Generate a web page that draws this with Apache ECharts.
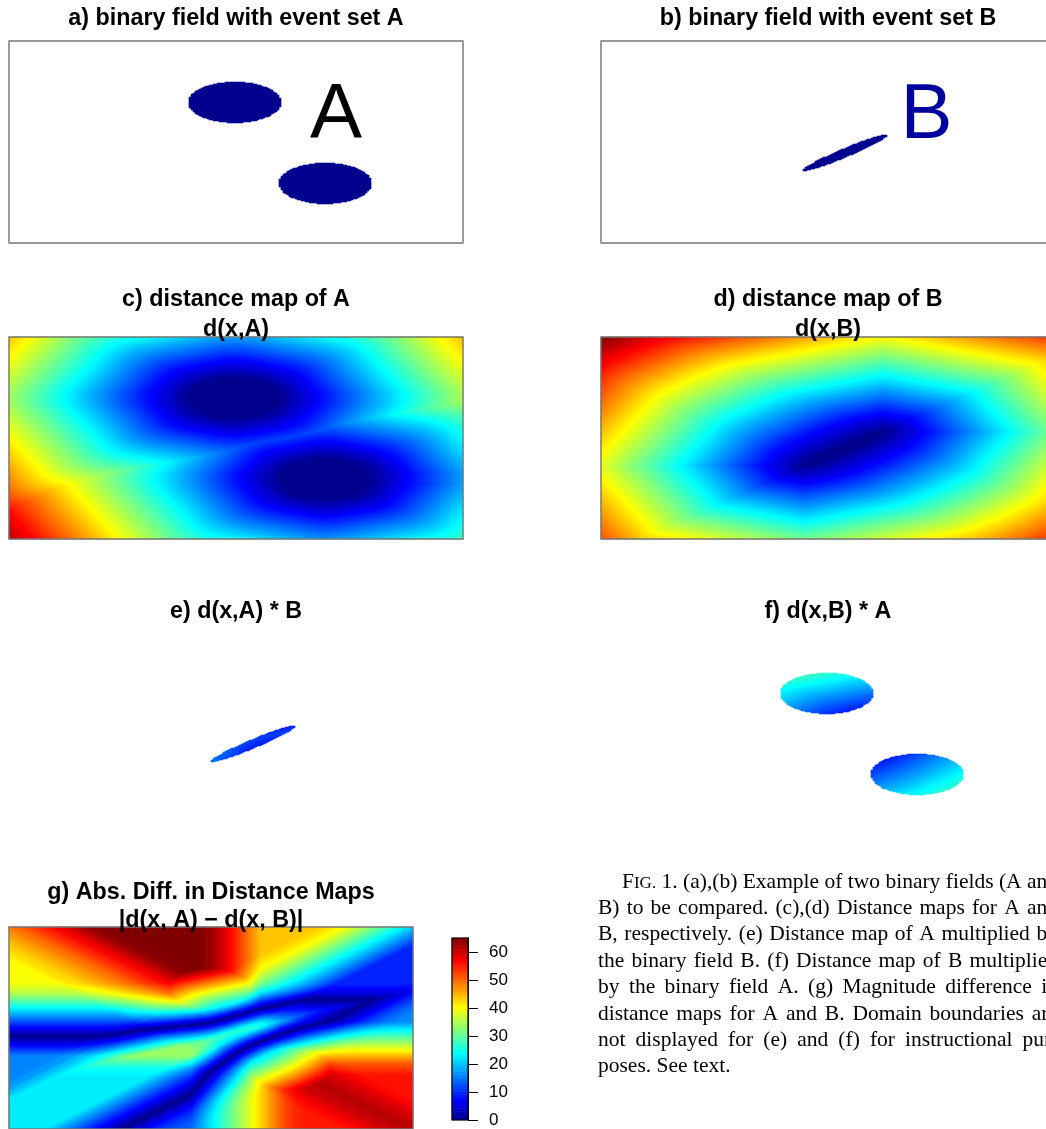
<!DOCTYPE html>
<html><head><meta charset="utf-8">
<script src="https://cdn.jsdelivr.net/npm/echarts@6/dist/echarts.min.js"></script>
<style>html,body{margin:0;padding:0;background:#fff;overflow:hidden}#chart{width:1046px;height:1129px}</style>
</head><body><div id="chart"></div>
<script>
// ---------------- values ----------------
// square domain, coordinates normalised 0..1 (x to the right, y downwards)
// event set A : two discs
const eventA_cx = [0.497, 0.697];
const eventA_cy = [0.304, 0.705];
const eventA_rx = [0.102, 0.102];
const eventA_ry = [0.101, 0.101];
// event set B : one thin tilted ellipse
const eventB_cx = [0.5375];
const eventB_cy = [0.5537];
const eventB_halfLength = [0.1275];
const eventB_halfWidth = [0.017];
const eventB_angleDeg = [44];
// colour bar of panel (g)
const diffMaxRead = 65;
const barTicks = [0, 10, 20, 30, 40, 50, 60];
const barSteps = 64;
// texts
const panelTitles = [
  ['a) binary field with event set A'], ['b) binary field with event set B'],
  ['c) distance map of A', 'd(x,A)'], ['d) distance map of B', 'd(x,B)'],
  ['e) d(x,A) * B'], ['f) d(x,B) * A'],
  ['g) Abs. Diff. in Distance Maps', '|d(x, A) \u2212 d(x, B)|']
];
const captionLines = [
  'FIG. 1. (a),(b) Example of two binary fields (A and',
  'B) to be compared. (c),(d) Distance maps for A and',
  'B, respectively. (e) Distance map of A multiplied by',
  'the binary field B. (f) Distance map of B multiplied',
  'by the binary field A. (g) Magnitude difference in',
  'distance maps for A and B. Domain boundaries are',
  'not displayed for (e) and (f) for instructional pur-',
  'poses. See text.'
];

// ---------------- style / layout ----------------
const TIM = ["#00008F","#00009F","#0000AF","#0000BF","#0000CF","#0000DF","#0000EF","#0000FF","#0010FF","#0020FF","#0030FF","#0040FF","#0050FF","#0060FF","#0070FF","#0080FF","#008FFF","#009FFF","#00AFFF","#00BFFF","#00CFFF","#00DFFF","#00EFFF","#00FFFF","#10FFEF","#20FFDF","#30FFCF","#40FFBF","#50FFAF","#60FF9F","#70FF8F","#80FF80","#8FFF70","#9FFF60","#AFFF50","#BFFF40","#CFFF30","#DFFF20","#EFFF10","#FFFF00","#FFEF00","#FFDF00","#FFCF00","#FFBF00","#FFAF00","#FF9F00","#FF8F00","#FF8000","#FF7000","#FF6000","#FF5000","#FF4000","#FF3000","#FF2000","#FF1000","#FF0000","#EF0000","#DF0000","#CF0000","#BF0000","#AF0000","#9F0000","#8F0000","#800000"];
const boxes = [ // left, top, width, height
  [9, 41, 454, 202], [601, 41, 454, 202],
  [9, 337, 454, 202], [601, 337, 454, 202],
  [9, 632, 454, 202], [601, 632, 454, 202],
  [9, 927, 404, 202], [452, 938, 16, 182]
];
const cellsMain = [227, 202];   // raster resolution of panels a-f (2 x 1 px cells)
const cellsDiff = [202, 202];   // raster resolution of panel g
const titlePos = [[236, 18.5], [828, 18.5], [236, 300, 330], [828, 300, 330], [236, 611.5], [828, 611.5], [211, 892.5, 921]];
const SANS = '"Liberation Sans", Arial, Helvetica, sans-serif';
const SERIF = '"Liberation Serif", "Times New Roman", Times, serif';

// ---------------- event masks and distance maps ----------------
function buildFields(Nx, Ny) {
  const inA = new Uint8Array(Nx * Ny), inB = new Uint8Array(Nx * Ny);
  for (let j = 0; j < Ny; j++) for (let i = 0; i < Nx; i++) {
    const x = (i + 0.5) / Nx, y = (j + 0.5) / Ny;
    for (let k = 0; k < eventA_cx.length; k++) {
      const u = (x - eventA_cx[k]) / eventA_rx[k], v = (y - eventA_cy[k]) / eventA_ry[k];
      if (u * u + v * v <= 1) inA[j * Nx + i] = 1;
    }
    for (let k = 0; k < eventB_cx.length; k++) {
      const th = eventB_angleDeg[k] * Math.PI / 180;
      const dx = x - eventB_cx[k], dy = y - eventB_cy[k];
      const u = (dx * Math.cos(th) - dy * Math.sin(th)) / eventB_halfLength[k];
      const v = (dx * Math.sin(th) + dy * Math.cos(th)) / eventB_halfWidth[k];
      if (u * u + v * v <= 1) inB[j * Nx + i] = 1;
    }
  }
  function distanceMap(mask) {
    const bx = [], by = [];
    for (let j = 0; j < Ny; j++) for (let i = 0; i < Nx; i++) {
      if (!mask[j * Nx + i]) continue;
      if (i === 0 || j === 0 || i === Nx - 1 || j === Ny - 1 ||
          !mask[j * Nx + i - 1] || !mask[j * Nx + i + 1] || !mask[(j - 1) * Nx + i] || !mask[(j + 1) * Nx + i]) {
        bx.push(i / Nx); by.push(j / Ny);
      }
    }
    const out = new Float32Array(Nx * Ny);
    for (let j = 0; j < Ny; j++) for (let i = 0; i < Nx; i++) {
      if (mask[j * Nx + i]) continue;
      const x = i / Nx, y = j / Ny;
      let best = 1e9;
      for (let k = 0; k < bx.length; k++) {
        const a = Math.abs(x - bx[k]), b = Math.abs(y - by[k]);
        const d = a > b ? a + 0.41421356 * b : b + 0.41421356 * a;
        if (d < best) best = d;
      }
      out[j * Nx + i] = best;
    }
    return out;
  }
  return {Nx, Ny, inA, inB, dA: distanceMap(inA), dB: distanceMap(inB)};
}
const FM = buildFields(cellsMain[0], cellsMain[1]);
const FG = buildFields(cellsDiff[0], cellsDiff[1]);
let maxD = 0, maxDiff = 0;
for (let k = 0; k < FM.dA.length; k++) maxD = Math.max(maxD, FM.dA[k], FM.dB[k]);
for (let k = 0; k < FG.dA.length; k++) maxDiff = Math.max(maxDiff, Math.abs(FG.dA[k] - FG.dB[k]));
const diffScale = diffMaxRead / maxDiff;
const r4 = v => Math.round(v * 10000) / 10000;
const dataA = [], dataB = [], dataC = [], dataD = [], dataE = [], dataF = [], dataG = [];
for (let j = 0; j < FM.Ny; j++) for (let i = 0; i < FM.Nx; i++) {
  const k = j * FM.Nx + i;
  if (FM.inA[k]) { dataA.push([i, j, 1]); dataF.push([i, j, r4(FM.dB[k])]); }
  if (FM.inB[k]) { dataB.push([i, j, 1]); dataE.push([i, j, r4(FM.dA[k])]); }
  dataC.push([i, j, r4(FM.dA[k])]);
  dataD.push([i, j, r4(FM.dB[k])]);
}
for (let j = 0; j < FG.Ny; j++) for (let i = 0; i < FG.Nx; i++) {
  const k = j * FG.Nx + i;
  dataG.push([i, j, Math.round(Math.abs(FG.dA[k] - FG.dB[k]) * diffScale * 100) / 100]);
}
const dataBar = [];
for (let k = 0; k < barSteps; k++) dataBar.push([0, k, Math.round((k + 0.5) / barSteps * diffMaxRead * 100) / 100]);

// ---------------- option ----------------
const range = n => Array.from({length: n}, (_, k) => k);
const grids = boxes.map(b => ({left: b[0], top: b[1], width: b[2], height: b[3], show: false, containLabel: false, outerBoundsMode: 'none'}));
const xAxes = [], yAxes = [];
for (let p = 0; p < 7; p++) {
  const c = p === 6 ? cellsDiff : cellsMain;
  xAxes.push({type: 'category', gridIndex: p, data: range(c[0]), show: false});
  yAxes.push({type: 'category', gridIndex: p, data: range(c[1]), show: false, inverse: true});
}
xAxes.push({type: 'category', gridIndex: 7, data: ['0'], show: false});
yAxes.push({type: 'category', gridIndex: 7, data: range(barSteps), show: false});
yAxes.push({
  type: 'value', gridIndex: 7, position: 'right', min: 0, max: diffMaxRead,
  axisLine: {show: true, lineStyle: {color: '#000', width: 1}},
  axisTick: {show: true, inside: false, length: 10, lineStyle: {color: '#000', width: 1}, customValues: barTicks},
  axisLabel: {show: true, customValues: barTicks, color: '#000', fontSize: 17, fontFamily: SANS, margin: 21},
  splitLine: {show: false}
});
const hm = (p, data, yIdx) => ({
  type: 'heatmap', xAxisIndex: p, yAxisIndex: yIdx === undefined ? p : yIdx, data,
  progressive: 0, silent: true, animation: false, emphasis: {disabled: true}
});
const series = [hm(0, dataA), hm(1, dataB), hm(2, dataC), hm(3, dataD), hm(4, dataE), hm(5, dataF), hm(6, dataG), hm(7, dataBar, 7)];
const visualMap = [
  {show: false, seriesIndex: [0, 1], dimension: 2, min: 0, max: 1, inRange: {color: ['#00008F', '#00008F']}},
  {show: false, seriesIndex: [2, 3, 4, 5], dimension: 2, min: 0, max: maxD, inRange: {color: TIM}},
  {show: false, seriesIndex: [6, 7], dimension: 2, min: 0, max: diffMaxRead, inRange: {color: TIM}}
];

// texts and frames
const graphics = [];
function txt(s, x, y, size, opts) {
  opts = opts || {};
  graphics.push({
    type: 'text', x, y, z: 100, silent: true,
    style: {
      text: s, fill: opts.color || '#000', fontSize: size, fontFamily: opts.family || SANS,
      fontWeight: opts.weight || 'normal', align: opts.align || 'center', verticalAlign: 'middle',
      textAlign: opts.align || 'center', textVerticalAlign: 'middle'
    }
  });
}
panelTitles.forEach((lines, p) => {
  lines.forEach((s, l) => txt(s, titlePos[p][0], titlePos[p][1 + l], 23.3, {weight: 'bold'}));
});
txt('A', 336, 116, 78, {});
txt('B', 926.5, 116.5, 78, {color: '#00009F'});
[0, 1, 2, 3, 6].forEach(p => {
  const b = boxes[p];
  graphics.push({type: 'rect', z: 90, silent: true, shape: {x: b[0], y: b[1], width: b[2], height: b[3]},
    style: {fill: 'none', stroke: '#767676', lineWidth: 1.4}});
});
{
  const b = boxes[7];
  graphics.push({type: 'rect', z: 90, silent: true, shape: {x: b[0], y: b[1], width: b[2], height: b[3]},
    style: {fill: 'none', stroke: '#000', lineWidth: 1.2}});
}
// caption, justified word by word
const capSize = 21.5, capSC = 17, capRight = 1058, capY0 = 882, capDY = 26.4;
const mctx = document.createElement('canvas').getContext('2d');
const measure = (s, sz) => { mctx.font = sz + 'px ' + SERIF; return mctx.measureText(s).width; };
captionLines.forEach((line, li) => {
  const words = line.split(' ');
  const widths = words.map((wd, k) => (li === 0 && k === 0) ? measure('F', capSize) + measure('IG.', capSC) : measure(wd, capSize));
  const left = li === 0 ? 622 : 598;
  const total = widths.reduce((a, b) => a + b, 0);
  const nat = measure(' ', capSize);
  let gap = nat;
  if (li < captionLines.length - 1) gap = Math.max(nat * 0.8, (capRight - left - total) / (words.length - 1));
  let x = left;
  const y = capY0 + li * capDY;
  words.forEach((wd, k) => {
    if (li === 0 && k === 0) {
      txt('F', x, y, capSize, {family: SERIF, align: 'left'});
      txt('IG.', x + measure('F', capSize), y + 1.6, capSC, {family: SERIF, align: 'left'});
    } else {
      txt(wd, x, y, capSize, {family: SERIF, align: 'left'});
    }
    x += widths[k] + gap;
  });
});

const chart = echarts.init(document.getElementById('chart'), null, {renderer: 'canvas'});
chart.setOption({
  animation: false,
  backgroundColor: '#fff',
  grid: grids, xAxis: xAxes, yAxis: yAxes,
  visualMap, series, graphic: graphics
});
</script></body></html>
